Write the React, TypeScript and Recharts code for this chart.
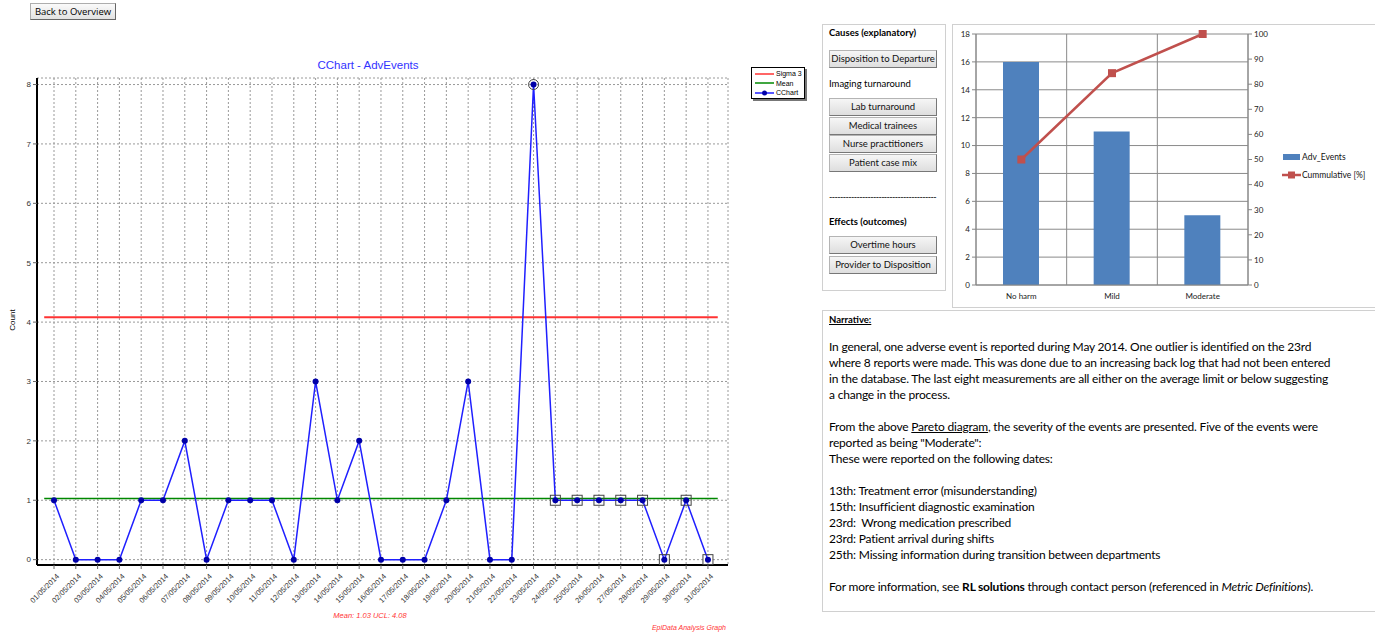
import React from 'react';
import {
  LineChart, Line, ComposedChart, Bar, XAxis, YAxis, CartesianGrid, ReferenceLine,
} from 'recharts';

// C chart: adverse events per day, May 2014
const dayLabels = [
  '01/05/2014', '02/05/2014', '03/05/2014', '04/05/2014', '05/05/2014', '06/05/2014', '07/05/2014',
  '08/05/2014', '09/05/2014', '10/05/2014', '11/05/2014', '12/05/2014', '13/05/2014', '14/05/2014',
  '15/05/2014', '16/05/2014', '17/05/2014', '18/05/2014', '19/05/2014', '20/05/2014', '21/05/2014',
  '22/05/2014', '23/05/2014', '24/05/2014', '25/05/2014', '26/05/2014', '27/05/2014', '28/05/2014',
  '29/05/2014', '30/05/2014', '31/05/2014',
];
const dayNumbers = [
  1, 2, 3, 4, 5, 6, 7, 8, 9, 10, 11, 12, 13, 14, 15, 16,
  17, 18, 19, 20, 21, 22, 23, 24, 25, 26, 27, 28, 29, 30, 31,
];
const counts = [
  1, 0, 0, 0, 1, 1, 2, 0, 1, 1, 1, 0, 3, 1, 2, 0,
  0, 0, 1, 3, 0, 0, 8, 1, 1, 1, 1, 1, 0, 1, 0,
];
// points flagged by the run rule (last eight at or below the mean)
const runRuleDays = [24, 25, 26, 27, 28, 29, 30, 31];
const countTicks = [0, 1, 2, 3, 4, 5, 6, 7, 8];
const MEAN = 1.03;
const UCL = 4.08;

// Pareto: severity
const severities = ['No harm', 'Mild', 'Moderate'];
const severityCounts = [16, 11, 5];
const cumulativePct = [50, 84.4, 100];
const leftTicks = [0, 2, 4, 6, 8, 10, 12, 14, 16, 18];
const pctTicks = [0, 10, 20, 30, 40, 50, 60, 70, 80, 90, 100];

const causeButtons = ['Lab turnaround', 'Medical trainees', 'Nurse practitioners', 'Patient case mix'];

const cData = dayNumbers.map((d, i) => ({
  day: d,
  label: dayLabels[i],
  count: counts[i],
  flag: runRuleDays.includes(d),
}));

const paretoData = severities.map((s, i) => ({
  name: s,
  events: severityCounts[i],
  cum: cumulativePct[i],
}));

const arial = '"Liberation Sans", Arial, sans-serif';
const calibri = 'Lato, "Noto Sans", sans-serif';

const DateTick = (props: any) => {
  const { x, y, payload } = props;
  return (
    <g transform={`translate(${x + 3},${y + 3})`}>
      <text x={0} y={0} dy={4} textAnchor="end" transform="rotate(-45)" fontSize={7.5} fill="#333" fontFamily={arial}>
        {dayLabels[payload.value - 1]}
      </text>
    </g>
  );
};

const renderDot = (props: any) => {
  const { cx, cy, payload, index } = props;
  return (
    <g key={`dot-${index}`}>
      {payload.flag && (
        <rect x={cx - 5} y={cy - 5} width={10} height={10} fill="none" stroke="#444" strokeWidth={1} />
      )}
      {payload.count > UCL && <circle cx={cx} cy={cy} r={5} fill="none" stroke="#444" strokeWidth={1} />}
      <circle cx={cx} cy={cy} r={3} fill="#0000a8" />
    </g>
  );
};

const SquareDot = (props: any) => {
  const { cx, cy, index } = props;
  return <rect key={`sq-${index}`} x={cx - 4} y={cy - 4} width={8} height={8} fill="#c0504d" />;
};

// vertical grid lines on the category boundaries, Excel style
const categoryBoundaries = ({ offset }: any) =>
  [0, 1, 2, 3].map((k) => offset.left + (offset.width * k) / severities.length);

const btn: React.CSSProperties = {
  position: 'absolute',
  left: 829,
  width: 108,
  height: 17,
  boxSizing: 'border-box',
  background: 'linear-gradient(#f6f6f6, #dedede)',
  border: '1px solid #b4b4b4',
  borderRightColor: '#777',
  borderBottomColor: '#777',
  fontFamily: calibri,
  fontSize: 9.5,
  lineHeight: '15px',
  textAlign: 'center',
  color: '#111',
};

const App: React.FC = () => {
  return (
    <div style={{ position: 'absolute', left: 0, top: 0, width: 1375, height: 638, background: '#fff', overflow: 'hidden' }}>
      {/* Back button */}
      <div
        style={{
          position: 'absolute', left: 30, top: 3, width: 86, height: 17, boxSizing: 'border-box',
          background: 'linear-gradient(#fafafa, #e2e2e2)', border: '1px solid #adadad',
          borderRightColor: '#666', borderBottomColor: '#666',
          fontFamily: '"Open Sans", sans-serif', fontSize: 9.5, lineHeight: '15px', textAlign: 'center', color: '#000',
        }}
      >
        Back to Overview
      </div>

      {/* C chart */}
      <div style={{ position: 'absolute', left: 0, top: 0 }}>
        <LineChart width={740} height={638} data={cData} margin={{ top: 78, right: 12, bottom: 0, left: 0 }}>
          <CartesianGrid stroke="#999" strokeDasharray="2 2" />
          <XAxis
            dataKey="day"
            type="number"
            domain={[0.22, 31.92]}
            ticks={dayNumbers}
            interval={0}
            height={73}
            tick={<DateTick />}
            tickSize={4}
            axisLine={{ stroke: '#000', strokeWidth: 2 }}
            tickLine={{ stroke: '#666' }}
          />
          <YAxis
            type="number"
            domain={[-0.09, 8.11]}
            ticks={countTicks}
            allowDataOverflow
            width={37}
            tickSize={4}
            tick={{ fontSize: 8, fill: '#333', fontFamily: arial }}
            axisLine={{ stroke: '#000', strokeWidth: 2 }}
            tickLine={{ stroke: '#666' }}
          />
          <ReferenceLine
            segment={[{ x: 0.55, y: UCL }, { x: 31.45, y: UCL }]}
            stroke="#ff3333"
            strokeWidth={2}
          />
          <ReferenceLine
            segment={[{ x: 0.55, y: MEAN }, { x: 31.45, y: MEAN }]}
            stroke="#008800"
            strokeWidth={1.5}
          />
          <Line
            type="linear"
            dataKey="count"
            stroke="#1f1fff"
            strokeWidth={1.5}
            dot={renderDot}
            activeDot={false}
            isAnimationActive={false}
          />
        </LineChart>
      </div>

      <div style={{ position: 'absolute', left: 300, top: 59, width: 136, textAlign: 'center', fontFamily: arial, fontSize: 11.5, color: '#3333ff' }}>
        CChart - AdvEvents
      </div>

      <div
        style={{
          position: 'absolute', left: 6, top: 320, transform: 'translate(-50%, -50%) rotate(-90deg)',
          fontFamily: arial, fontSize: 8, color: '#000', marginLeft: 6,
        }}
      >
        Count
      </div>

      {/* C chart legend */}
      <div
        style={{
          position: 'absolute', left: 751, top: 67, width: 54, height: 32, boxSizing: 'border-box',
          border: '1px solid #000', boxShadow: '2px 2px 0 #777', background: '#fff',
          fontFamily: arial, fontSize: 7, lineHeight: '9.5px', padding: '1px 0 0 3px',
        }}
      >
        {[
          { name: 'Sigma 3', color: '#ff3333', dot: false },
          { name: 'Mean', color: '#008800', dot: false },
          { name: 'CChart', color: '#1f1fff', dot: true },
        ].map((it) => (
          <div key={it.name} style={{ display: 'flex', alignItems: 'center', height: 9.5 }}>
            <svg width={19} height={8} style={{ marginRight: 2 }}>
              <line x1={0} y1={4} x2={19} y2={4} stroke={it.color} strokeWidth={1.5} />
              {it.dot && <circle cx={9.5} cy={4} r={2.5} fill="#0000a8" />}
            </svg>
            <span>{it.name}</span>
          </div>
        ))}
      </div>

      <div style={{ position: 'absolute', left: 300, top: 611, width: 140, textAlign: 'center', fontFamily: arial, fontSize: 7.5, fontStyle: 'italic', color: '#ff3333' }}>
        Mean: 1.03 UCL: 4.08
      </div>
      <div style={{ position: 'absolute', left: 600, top: 624, width: 126, textAlign: 'right', fontFamily: arial, fontSize: 7, fontStyle: 'italic', color: '#ff3333' }}>
        EpiData Analysis Graph
      </div>

      {/* Causes / effects panel */}
      <div style={{ position: 'absolute', left: 822, top: 24, width: 124, height: 267, boxSizing: 'border-box', border: '1px solid #d0d0d0' }} />
      <div style={{ position: 'absolute', left: 829, top: 27, fontFamily: calibri, fontSize: 9.5, fontWeight: 'bold', color: '#000' }}>
        Causes (explanatory)
      </div>
      <div style={{ ...btn, top: 50, height: 18, lineHeight: '16px' }}>Disposition to Departure</div>
      <div style={{ position: 'absolute', left: 829, top: 78, fontFamily: calibri, fontSize: 9.5, color: '#000' }}>
        Imaging turnaround
      </div>
      {causeButtons.map((b, i) => (
        <div key={b} style={{ ...btn, top: 98 + i * 18.5, height: 18, lineHeight: '16px' }}>{b}</div>
      ))}
      <div style={{ position: 'absolute', left: 829, top: 191, fontFamily: calibri, fontSize: 9, color: '#000', letterSpacing: -0.6 }}>
        ---------------------------------------
      </div>
      <div style={{ position: 'absolute', left: 829, top: 216, fontFamily: calibri, fontSize: 9.5, fontWeight: 'bold', color: '#000' }}>
        Effects (outcomes)
      </div>
      <div style={{ ...btn, top: 236, height: 18, lineHeight: '16px' }}>Overtime hours</div>
      <div style={{ ...btn, top: 256, height: 18, lineHeight: '16px' }}>Provider to Disposition</div>

      {/* Pareto chart */}
      <div style={{ position: 'absolute', left: 952, top: 24, width: 430, height: 284, boxSizing: 'border-box', border: '1px solid #d0d0d0' }} />
      <div style={{ position: 'absolute', left: 952, top: 24 }}>
        <ComposedChart width={423} height={283} data={paretoData} margin={{ top: 10, right: 97, bottom: 0, left: 0 }}>
          <CartesianGrid
            xAxisId="cat"
            yAxisId="left"
            stroke="#8a8a8a"
            strokeWidth={1}
            verticalCoordinatesGenerator={categoryBoundaries}
          />
          <XAxis
            xAxisId="cat"
            dataKey="name"
            height={22}
            tickLine={false}
            axisLine={{ stroke: '#868686' }}
            tick={{ fontSize: 8, fill: '#222', fontFamily: calibri }}
          />
          <YAxis
            yAxisId="left"
            domain={[0, 18]}
            ticks={leftTicks}
            width={24}
            tickSize={4}
            axisLine={{ stroke: '#868686' }}
            tickLine={{ stroke: '#868686' }}
            tick={{ fontSize: 8, fill: '#222', fontFamily: calibri }}
          />
          <YAxis
            yAxisId="pct"
            orientation="right"
            domain={[0, 100]}
            ticks={pctTicks}
            width={30}
            tickSize={4}
            axisLine={{ stroke: '#868686' }}
            tickLine={{ stroke: '#868686' }}
            tick={{ fontSize: 8, fill: '#222', fontFamily: calibri }}
          />
          <Bar xAxisId="cat" yAxisId="left" dataKey="events" fill="#4f81bd" barSize={36} isAnimationActive={false} />
          <Line
            xAxisId="cat"
            yAxisId="pct"
            type="linear"
            dataKey="cum"
            stroke="#c0504d"
            strokeWidth={2.5}
            dot={<SquareDot />}
            activeDot={false}
            isAnimationActive={false}
          />
        </ComposedChart>
      </div>

      {/* Pareto legend */}
      <div style={{ position: 'absolute', left: 1282, top: 152, fontFamily: calibri, fontSize: 8.5, color: '#111', lineHeight: '18px' }}>
        <div style={{ display: 'flex', alignItems: 'center', height: 10 }}>
          <svg width={19} height={8} style={{ marginRight: 1 }}>
            <rect x={1} y={1} width={17} height={6} fill="#4f81bd" />
          </svg>
          <span>Adv_Events</span>
        </div>
        <div style={{ display: 'flex', alignItems: 'center', height: 10, marginTop: 8 }}>
          <svg width={19} height={8} style={{ marginRight: 1 }}>
            <line x1={0} y1={4} x2={19} y2={4} stroke="#c0504d" strokeWidth={2.5} />
            <rect x={6} y={0.5} width={7} height={7} fill="#c0504d" />
          </svg>
          <span>Cummulative [%]</span>
        </div>
      </div>

      {/* Narrative */}
      <div style={{ position: 'absolute', left: 822, top: 310, width: 560, height: 302, boxSizing: 'border-box', border: '1px solid #d0d0d0' }} />
      <div style={{ position: 'absolute', left: 829, top: 314, fontFamily: calibri, fontSize: 9.5, fontWeight: 'bold', textDecoration: 'underline' }}>
        Narrative:
      </div>
      <div style={{ position: 'absolute', left: 829, top: 339, fontFamily: calibri, fontSize: 12, letterSpacing: -0.2, lineHeight: '16px', color: '#000', whiteSpace: 'nowrap' }}>
        <div>In general, one adverse event is reported during May 2014. One outlier is identified on the 23rd</div>
        <div>where 8 reports were made. This was done due to an increasing back log that had not been entered</div>
        <div>in the database. The last eight measurements are all either on the average limit or below suggesting</div>
        <div>a change in the process.</div>
        <div>&nbsp;</div>
        <div>From the above <span style={{ textDecoration: 'underline' }}>Pareto diagram</span>, the severity of the events are presented. Five of the events were</div>
        <div>reported as being "Moderate":</div>
        <div>These were reported on the following dates:</div>
        <div>&nbsp;</div>
        <div>13th: Treatment error (misunderstanding)</div>
        <div>15th: Insufficient diagnostic examination</div>
        <div>23rd:&nbsp; Wrong medication prescribed</div>
        <div>23rd: Patient arrival during shifts</div>
        <div>25th: Missing information during transition between departments</div>
        <div>&nbsp;</div>
        <div>For more information, see <b>RL solutions</b> through contact person (referenced in <i>Metric Definitions</i>).</div>
      </div>
    </div>
  );
};

export default App;
